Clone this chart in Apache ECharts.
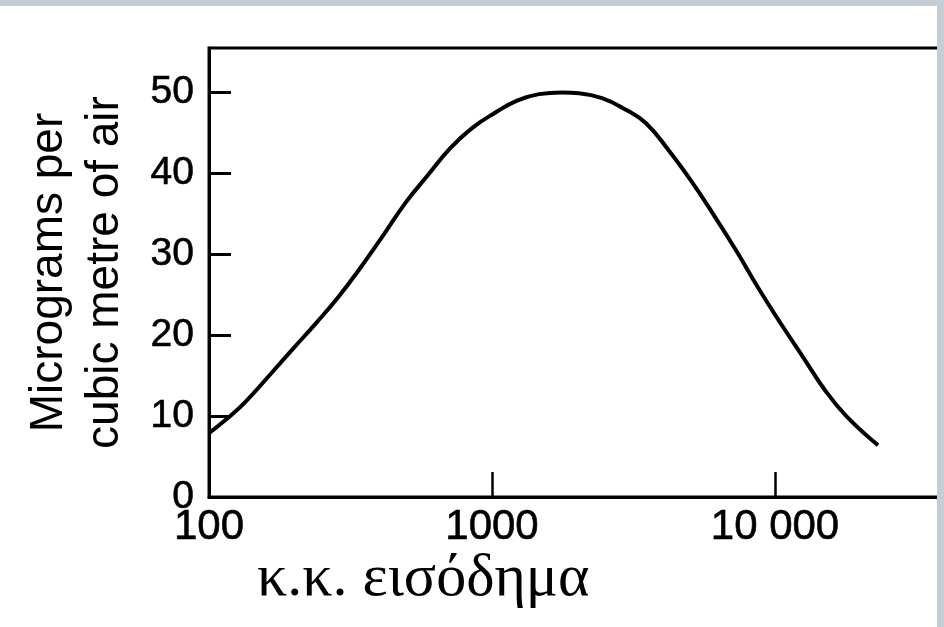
<!DOCTYPE html>
<html>
<head>
<meta charset="utf-8">
<script src="https://cdn.jsdelivr.net/npm/echarts@6/dist/echarts.min.js"></script>
<style>
  html, body { margin: 0; padding: 0; background: #ffffff; }
  #chart { width: 944px; height: 627px; }
</style>
</head>
<body>
<div id="chart"></div>
<script>
// Income per head (log scale) and particulate concentration
const incomeValues = [100, 116, 134, 166, 199, 239, 286, 344, 412, 493, 594, 711, 850, 1025, 1226, 1466, 1767, 2030, 2447, 2927, 3501, 4221, 5049, 6039, 7281, 8708, 10410, 12560, 15020, 17970, 23120];
const concentrationValues = [7.9, 9.7, 11.7, 15.3, 18.4, 21.5, 24.7, 28.4, 32.3, 36.3, 39.8, 43.1, 45.6, 47.5, 49.0, 49.8, 50.0, 49.9, 49.3, 48.0, 46.2, 42.8, 39.1, 35.0, 30.5, 25.9, 21.6, 17.3, 13.2, 9.9, 6.4];
const yTickValues = [0, 10, 20, 30, 40, 50];
const xTickValues = [100, 1000, 10000, 100000];
const yAxisTitle = 'Micrograms per\ncubic metre of air';
const xAxisTitle = 'κ.κ. εισόδημα';

const seriesData = incomeValues.map((x, i) => [x, concentrationValues[i]]);

function groupThousands(v) {
  if (v >= 10000) return String(v).replace(/\B(?=(\d{3})+(?!\d))/g, ' ');
  return String(v);
}

const chart = echarts.init(document.getElementById('chart'), null, { renderer: 'canvas' });
chart.setOption({
  animation: false,
  backgroundColor: '#ffffff',
  title: {
    text: xAxisTitle,
    left: 252,
    top: 544,
    textStyle: { fontFamily: 'Liberation Serif', fontSize: 60, fontWeight: 'normal', color: '#000' }
  },
  grid: {
    left: 209, top: 48, bottom: 130, right: -114,
    containLabel: false,
    outerBoundsMode: 'none',
    show: true, borderColor: '#000', borderWidth: 3, backgroundColor: 'transparent'
  },
  xAxis: {
    type: 'log',
    logBase: 10,
    min: 100,
    max: 100000,
    axisLine: { show: true, lineStyle: { color: '#000', width: 3 } },
    axisTick: { show: true, inside: true, length: 25, lineStyle: { color: '#000', width: 2.5 } },
    minorTick: { show: false },
    splitLine: { show: false },
    axisLabel: {
      margin: 9,
      fontFamily: 'Liberation Sans', fontSize: 42, color: '#000',
      textBorderColor: '#000', textBorderWidth: 0.6,
      formatter: v => xTickValues.indexOf(Math.round(v)) >= 0 ? groupThousands(Math.round(v)) : ''
    }
  },
  yAxis: {
    type: 'value',
    min: 0,
    max: 55.5,
    interval: 10,
    name: yAxisTitle,
    nameLocation: 'middle',
    nameRotate: 90,
    nameGap: 76,
    nameTextStyle: { fontFamily: 'Liberation Sans', fontSize: 46, color: '#000', lineHeight: 56 },
    axisLine: { show: true, lineStyle: { color: '#000', width: 3 } },
    axisTick: { show: true, inside: true, length: 22, lineStyle: { color: '#000', width: 3 } },
    splitLine: { show: false },
    axisLabel: {
      margin: 15,
      showMaxLabel: false,
      fontFamily: 'Liberation Sans', fontSize: 39, color: '#000',
      textBorderColor: '#000', textBorderWidth: 0.6,
      formatter: v => yTickValues.indexOf(v) >= 0 ? String(v) : ''
    }
  },
  series: [{
    type: 'line',
    data: seriesData,
    smooth: 0.45,
    showSymbol: false,
    symbol: 'none',
    lineStyle: { color: '#000', width: 4 },
    clip: true
  }],
  graphic: [
    { type: 'rect', shape: { x: 0, y: 0, width: 944, height: 6 }, style: { fill: '#c5ced5' }, z: 100 },
    { type: 'rect', shape: { x: 937, y: 0, width: 7, height: 627 }, style: { fill: '#c5ced5' }, z: 100 }
  ]
});
</script>
</body>
</html>
